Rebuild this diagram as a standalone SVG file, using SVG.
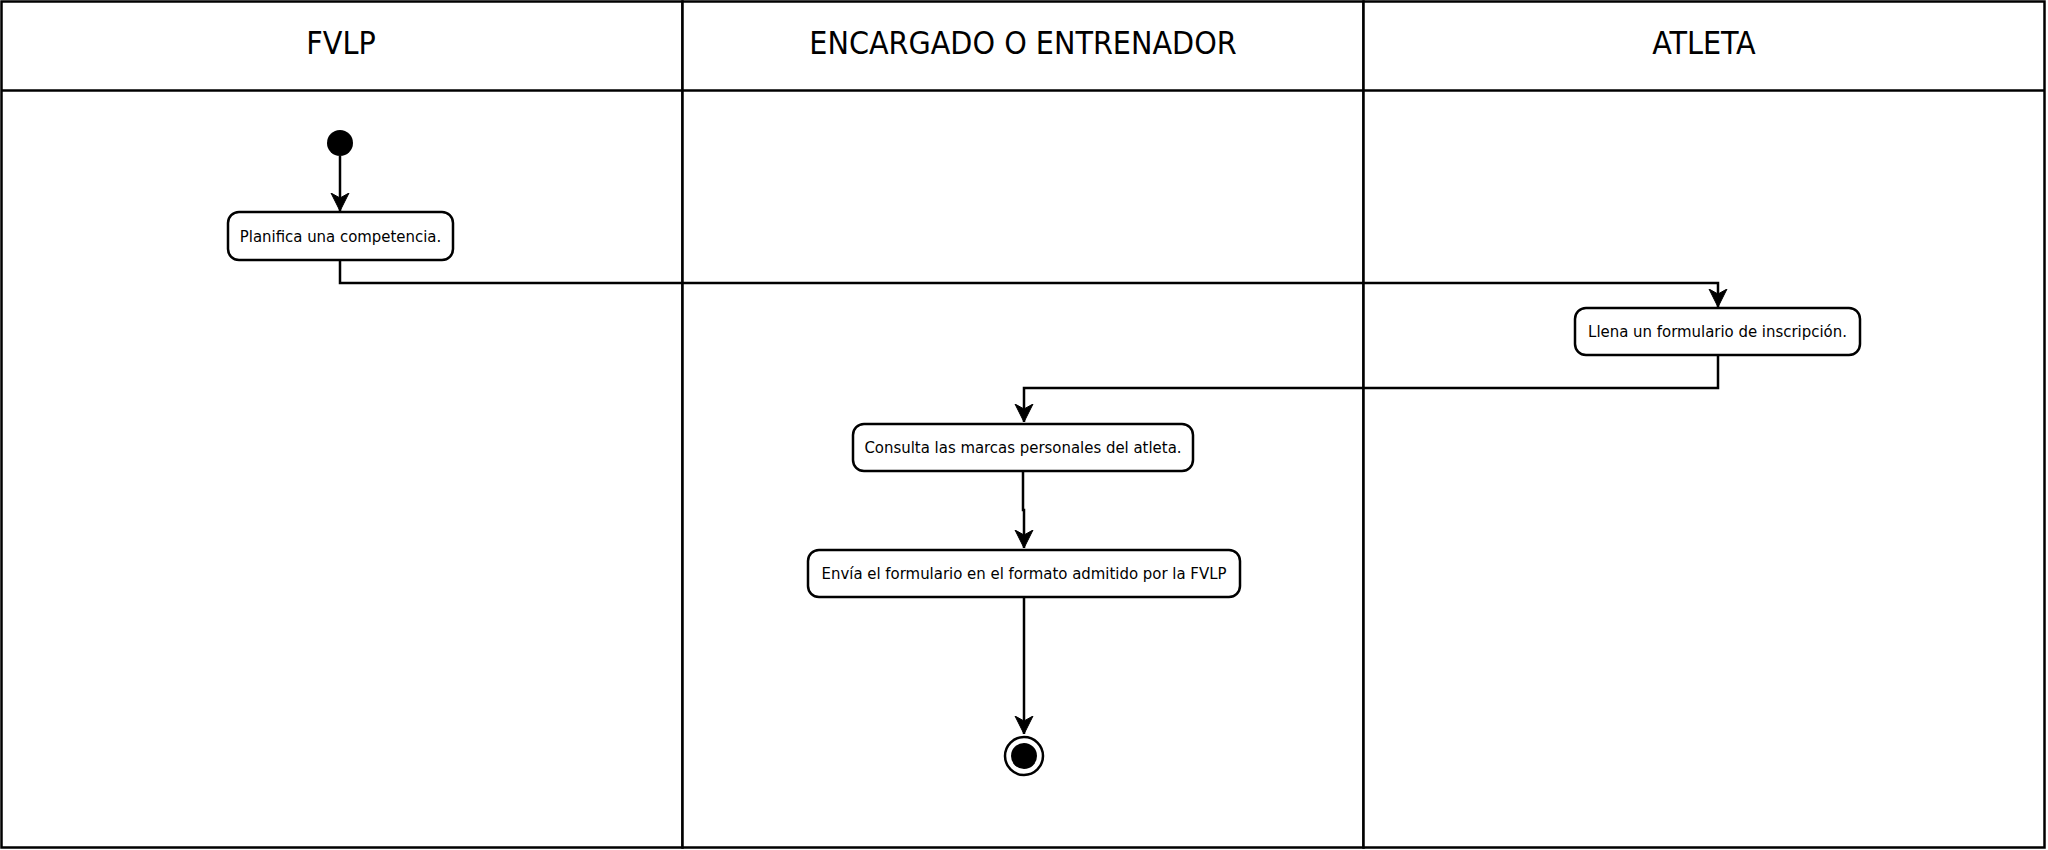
<svg xmlns="http://www.w3.org/2000/svg" width="2048" height="850" viewBox="0 0 2048 850">
<style>
.lane{fill:#fff;stroke:#000;stroke-width:2.5}
.hdr{font-family:"DejaVu Sans Condensed","DejaVu Sans",sans-serif;font-size:31.9px;fill:#000;text-anchor:middle}
.act{fill:#fff;stroke:#000;stroke-width:2.5}
.lbl{font-family:"DejaVu Sans Condensed","DejaVu Sans",sans-serif;font-size:16.6px;fill:#000;text-anchor:middle}
.edge{fill:none;stroke:#000;stroke-width:2.5}
</style>
<defs>
<marker id="arr" markerUnits="userSpaceOnUse" markerWidth="20" markerHeight="20" viewBox="0 0 20 20" refX="18" refY="10" orient="auto">
<path d="M0,1 L18,10 L0,19 L5,10 Z" fill="#000" stroke="#000" stroke-width="1"/>
</marker>
</defs>
<rect width="2048" height="850" fill="#fff"/>
<g id="lane-fvlp">
<rect class="lane" x="1.5" y="1.5" width="681" height="846"/>
<line class="lane" x1="1.5" y1="90.5" x2="682.5" y2="90.5"/>
<text class="hdr" x="341" y="54">FVLP</text>
</g>
<g id="lane-encargado">
<rect class="lane" x="682.5" y="1.5" width="681" height="846"/>
<line class="lane" x1="682.5" y1="90.5" x2="1363.5" y2="90.5"/>
<text class="hdr" x="1023" y="54">ENCARGADO O ENTRENADOR</text>
</g>
<g id="lane-atleta">
<rect class="lane" x="1363.5" y="1.5" width="681" height="846"/>
<line class="lane" x1="1363.5" y1="90.5" x2="2044.5" y2="90.5"/>
<text class="hdr" x="1704" y="54">ATLETA</text>
</g>
<g id="connectors">
<path class="edge" d="M340,156 L340,211" marker-end="url(#arr)"/>
<path class="edge" d="M340,260 L340,283 L1718,283 L1718,307" marker-end="url(#arr)"/>
<path class="edge" d="M1718,355 L1718,388 L1024,388 L1024,422" marker-end="url(#arr)"/>
<path class="edge" d="M1023,471 L1023,510 L1024,510 L1024,548" marker-end="url(#arr)"/>
<path class="edge" d="M1024,597 L1024,666 L1024,734" marker-end="url(#arr)"/>
</g>
<g id="start">
<circle cx="340" cy="143" r="13" fill="#000"/>
</g>
<g id="planifica">
<rect class="act" x="228" y="212" width="225" height="48" rx="11"/>
<text class="lbl" x="340.5" y="242">Planifica una competencia.</text>
</g>
<g id="llena">
<rect class="act" x="1575" y="308" width="285" height="47" rx="11"/>
<text class="lbl" x="1717.5" y="337">Llena un formulario de inscripción.</text>
</g>
<g id="consulta">
<rect class="act" x="853" y="424" width="340" height="47" rx="11"/>
<text class="lbl" x="1023" y="453">Consulta las marcas personales del atleta.</text>
</g>
<g id="envia">
<rect class="act" x="808" y="550" width="432" height="47" rx="11"/>
<text class="lbl" x="1024" y="579">Envía el formulario en el formato admitido por la FVLP</text>
</g>
<g id="end">
<circle cx="1024" cy="756" r="19" fill="#fff" stroke="#000" stroke-width="2.5"/>
<circle cx="1024" cy="756" r="13" fill="#000"/>
</g>
</svg>
